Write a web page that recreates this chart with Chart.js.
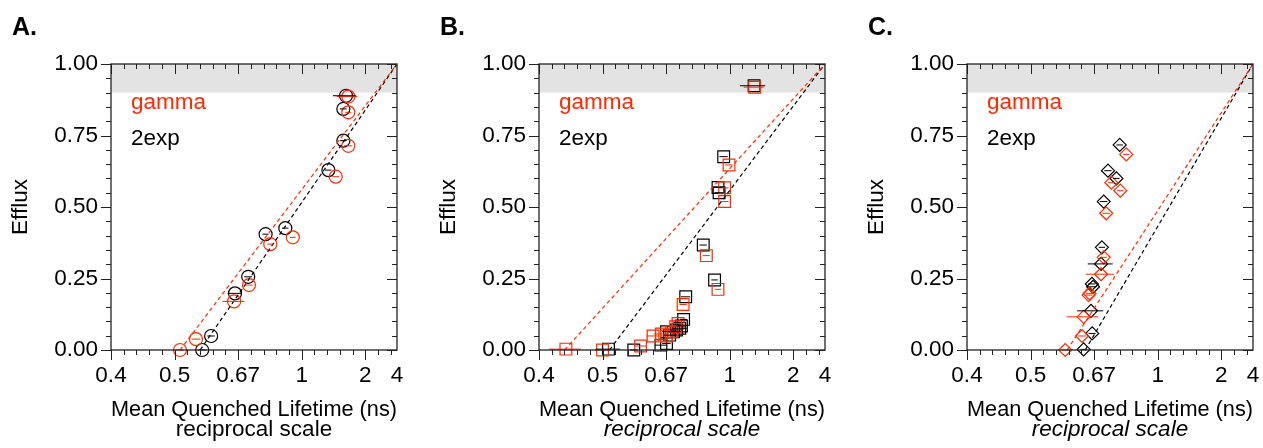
<!DOCTYPE html>
<html>
<head>
<meta charset="utf-8">
<script src="https://cdn.jsdelivr.net/npm/chart.js@4.4.1/dist/chart.umd.min.js"></script>
<style>
  body { margin: 0; width: 1263px; height: 448px; overflow: hidden; background: #fff; position: relative; font-family: "Liberation Sans", Arial, Helvetica, sans-serif; }
  .panel { position: absolute; top: 0; width: 421px; height: 448px; }
  .panel canvas { position: absolute; left: 0; top: 0; }
  .letter { position: absolute; left: 12px; top: 14px; font-size: 25px; line-height: 25px; font-weight: bold; color: #000; }
  .lg { position: absolute; left: 131px; font-size: 22.5px; line-height: 22.5px; white-space: nowrap; }
  .sub { position: absolute; left: 111px; width: 286px; top: 418px; text-align: center; font-size: 22.5px; line-height: 22.5px; color: #000; white-space: nowrap; }
</style>
</head>
<body>
<div class="panel" style="left:0px">
  <canvas id="chartA" width="421" height="448"></canvas>
  <div class="letter">A.</div>
  <div class="lg" style="top:91px;color:#ff2a00">gamma</div>
  <div class="lg" style="top:127px;color:#000">2exp</div>
  <div class="sub">reciprocal scale</div>
</div>
<div class="panel" style="left:428px">
  <canvas id="chartB" width="421" height="448"></canvas>
  <div class="letter">B.</div>
  <div class="lg" style="top:91px;color:#ff2a00">gamma</div>
  <div class="lg" style="top:127px;color:#000">2exp</div>
  <div class="sub" style="font-style:italic">reciprocal scale</div>
</div>
<div class="panel" style="left:856px">
  <canvas id="chartC" width="421" height="448"></canvas>
  <div class="letter">C.</div>
  <div class="lg" style="top:91px;color:#ff2a00">gamma</div>
  <div class="lg" style="top:127px;color:#000">2exp</div>
  <div class="sub" style="font-style:italic">reciprocal scale</div>
</div>
<script>
'use strict';

var FONT = '"Liberation Sans", Arial, Helvetica, sans-serif';
var RED = '#ff2a00';
var BLACK = '#000000';

// axis ticks (x axis is linear in 1/lifetime, labels show lifetime in ns)
var xTickTau = [0.4, 0.5, 0.6667, 1, 2, 4];
var xTickLabels = ['0.4', '0.5', '0.67', '1', '2', '4'];
var yTickValues = [0, 0.25, 0.5, 0.75, 1];

// fit lines run from the intercept lifetime (efflux 0) to 4 ns (efflux 1)
var fitEff = [0, 1];

// panel A - circles
var aTauBlack = [0.561, 0.584, 0.656, 0.704, 0.779, 0.886, 1.266, 1.488, 1.488, 1.536];
var aEffBlack = [0.000, 0.049, 0.198, 0.256, 0.405, 0.426, 0.629, 0.732, 0.843, 0.889];
var aErrBlack = [0.010, 0.010, 0.024, 0.015, 0.015, 0.020, 0.040, 0.060, 0.060, 0.210];
var aTauRed = [0.511, 0.546, 0.653, 0.707, 0.802, 0.935, 1.366, 1.580, 1.580, 1.580];
var aEffRed = [0.000, 0.038, 0.170, 0.227, 0.370, 0.394, 0.606, 0.714, 0.831, 0.886];
var aErrRed = [0.008, 0.010, 0.037, 0.015, 0.015, 0.020, 0.050, 0.080, 0.060, 0.200];
var aFitTauBlack = [0.556, 4];
var aFitTauRed = [0.511, 4];

// panel B - squares
var bTauBlack = [0.512, 0.570, 0.649, 0.668, 0.668, 0.679, 0.694, 0.705, 0.718, 0.725, 0.734, 0.743, 0.828, 0.894, 0.916, 0.923, 0.955, 1.238];
var bEffBlack = [0.003, 0.000, 0.017, 0.023, 0.064, 0.052, 0.064, 0.070, 0.076, 0.084, 0.107, 0.186, 0.367, 0.245, 0.568, 0.550, 0.676, 0.924];
var bErrBlack = [0.025, 0.010, 0.020, 0.015, 0.015, 0.020, 0.020, 0.025, 0.030, 0.020, 0.015, 0.020, 0.020, 0.020, 0.030, 0.030, 0.030, 0.150];
var bTauRed = [0.437, 0.500, 0.588, 0.624, 0.651, 0.668, 0.686, 0.702, 0.711, 0.732, 0.845, 0.916, 0.962, 0.962, 0.995, 1.245];
var bEffRed = [0.003, 0.000, 0.014, 0.049, 0.056, 0.049, 0.064, 0.081, 0.093, 0.159, 0.330, 0.212, 0.567, 0.519, 0.647, 0.919];
var bErrRed = [0.024, 0.015, 0.015, 0.020, 0.025, 0.020, 0.020, 0.020, 0.020, 0.015, 0.020, 0.020, 0.030, 0.030, 0.030, 0.120];
var bFitTauBlack = [0.514, 4];
var bFitTauRed = [0.435, 4];

// panel C - diamonds
var cTauBlack = [0.770, 0.719, 0.755, 0.702, 0.695, 0.692, 0.659, 0.663, 0.656, 0.660, 0.632];
var cEffBlack = [0.717, 0.627, 0.600, 0.519, 0.359, 0.301, 0.231, 0.221, 0.137, 0.058, 0.002];
var cErrBlack = [0.015, 0.015, 0.015, 0.015, 0.012, 0.047, 0.012, 0.012, 0.044, 0.012, 0.010];
var cTauRed = [0.802, 0.733, 0.773, 0.712, 0.702, 0.692, 0.651, 0.648, 0.632, 0.627, 0.579];
var cEffRed = [0.684, 0.585, 0.557, 0.478, 0.324, 0.265, 0.198, 0.192, 0.116, 0.049, 0.000];
var cErrRed = [0.015, 0.015, 0.015, 0.015, 0.012, 0.053, 0.012, 0.012, 0.049, 0.012, 0.010];
var cFitTauBlack = [0.637, 4];
var cFitTauRed = [0.584, 4];

function toPoints(tau, eff) {
  return tau.map(function(t, i) { return { x: 1 / t, y: eff[i] }; });
}

// grey band, framed box with ticks on all sides, horizontal error bars
var framePlugin = {
  id: 'frame',
  beforeDatasetsDraw: function(chart) {
    var ctx = chart.ctx, a = chart.chartArea, ys = chart.scales.y;
    var top = ys.getPixelForValue(1), low = ys.getPixelForValue(0.9);
    ctx.save();
    ctx.fillStyle = '#e3e3e3';
    ctx.fillRect(a.left, top, a.right - a.left, low - top);
    ctx.restore();
  },
  afterDatasetsDraw: function(chart) {
    var ctx = chart.ctx, a = chart.chartArea, xs = chart.scales.x, ys = chart.scales.y;
    ctx.save();
    chart.data.datasets.forEach(function(ds) {
      if (!ds.errs) return;
      ctx.strokeStyle = ds.borderColor;
      ctx.lineWidth = 1;
      ds.taus.forEach(function(t, i) {
        var y = ys.getPixelForValue(ds.data[i].y);
        var x1 = xs.getPixelForValue(1 / (t + ds.errs[i]));
        var x2 = xs.getPixelForValue(1 / (t - ds.errs[i]));
        ctx.beginPath();
        ctx.moveTo(x1, y);
        ctx.lineTo(x2, y);
        ctx.stroke();
      });
    });

    ctx.strokeStyle = '#222';
    ctx.lineWidth = 1;
    var i, p, len;
    ctx.beginPath();
    for (i = 0; i <= 20; i++) {
      p = Math.round(ys.getPixelForValue(i / 20)) + 0.5;
      len = i % 5 === 0 ? 10 : 5;
      ctx.moveTo(a.left - len, p); ctx.lineTo(a.left, p);
      ctx.moveTo(a.right - len, p); ctx.lineTo(a.right, p);
    }
    for (i = 3; i <= 25; i++) {
      p = Math.round(xs.getPixelForValue(i / 10)) + 0.5;
      len = i % 5 === 0 ? 10 : 5;
      ctx.moveTo(p, a.bottom); ctx.lineTo(p, a.bottom + len);
      ctx.moveTo(p, a.top); ctx.lineTo(p, a.top + len);
    }
    ctx.stroke();
    ctx.lineWidth = 1.3;
    ctx.strokeRect(a.left, a.top, a.right - a.left, a.bottom - a.top);
    ctx.restore();
  }
};

function pointSet(label, tau, eff, errs, color, style, radius) {
  return {
    type: 'scatter',
    label: label,
    data: toPoints(tau, eff),
    taus: tau,
    errs: errs,
    borderColor: color,
    backgroundColor: 'rgba(0,0,0,0)',
    borderWidth: 1.2,
    pointStyle: style,
    pointRadius: radius,
    clip: false
  };
}

function fitSet(label, tau, color) {
  return {
    type: 'line',
    label: label,
    data: toPoints(tau, fitEff),
    borderColor: color,
    borderWidth: 1.2,
    borderDash: [4, 3],
    pointRadius: 0,
    fill: false
  };
}

function makePanel(id, style, radius, tauB, effB, errB, tauR, effR, errR, fitB, fitR) {
  new Chart(document.getElementById(id), {
    type: 'scatter',
    data: {
      datasets: [
        fitSet('gamma fit', fitR, RED),
        fitSet('2exp fit', fitB, BLACK),
        pointSet('gamma', tauR, effR, errR, RED, style, radius),
        pointSet('2exp', tauB, effB, errB, BLACK, style, radius)
      ]
    },
    options: {
      responsive: false,
      animation: false,
      layout: { padding: { left: 0, right: 24, top: 64, bottom: 0 } },
      plugins: { legend: { display: false }, tooltip: { enabled: false } },
      scales: {
        x: {
          type: 'linear',
          min: 0.25,
          max: 2.5,
          reverse: true,
          afterBuildTicks: function(s) { s.ticks = xTickTau.map(function(t) { return { value: 1 / t }; }); },
          afterFit: function(s) { s.height = 98; s.paddingLeft = 0; s.paddingRight = 0; },
          grid: { display: false, drawTicks: false },
          border: { display: false },
          ticks: {
            autoSkip: false, maxRotation: 0, padding: 12, color: '#000',
            font: { family: FONT, size: 22.5 },
            callback: function(v, i) { return xTickLabels[i]; }
          },
          title: {
            display: true, text: 'Mean Quenched Lifetime (ns)', color: '#000',
            font: { family: FONT, size: 22.5 }, padding: { top: 0, bottom: 25 }
          }
        },
        y: {
          type: 'linear',
          min: 0,
          max: 1,
          afterBuildTicks: function(s) { s.ticks = yTickValues.map(function(v) { return { value: v }; }); },
          afterFit: function(s) { s.width = 111; s.paddingTop = 0; s.paddingBottom = 0; },
          grid: { display: false, drawTicks: false },
          border: { display: false },
          ticks: {
            padding: 13, color: '#000',
            font: { family: FONT, size: 22.5 },
            callback: function(v) { return v.toFixed(2); }
          },
          title: {
            display: true, text: 'Efflux', color: '#000',
            font: { family: FONT, size: 22.5 }, padding: { top: 7, bottom: 0 }
          }
        }
      }
    },
    plugins: [framePlugin]
  });
}

makePanel('chartA', 'circle', 6.5, aTauBlack, aEffBlack, aErrBlack, aTauRed, aEffRed, aErrRed, aFitTauBlack, aFitTauRed);
makePanel('chartB', 'rect', 8.3, bTauBlack, bEffBlack, bErrBlack, bTauRed, bEffRed, bErrRed, bFitTauBlack, bFitTauRed);
makePanel('chartC', 'rectRot', 6.5, cTauBlack, cEffBlack, cErrBlack, cTauRed, cEffRed, cErrRed, cFitTauBlack, cFitTauRed);
</script>
</body>
</html>
